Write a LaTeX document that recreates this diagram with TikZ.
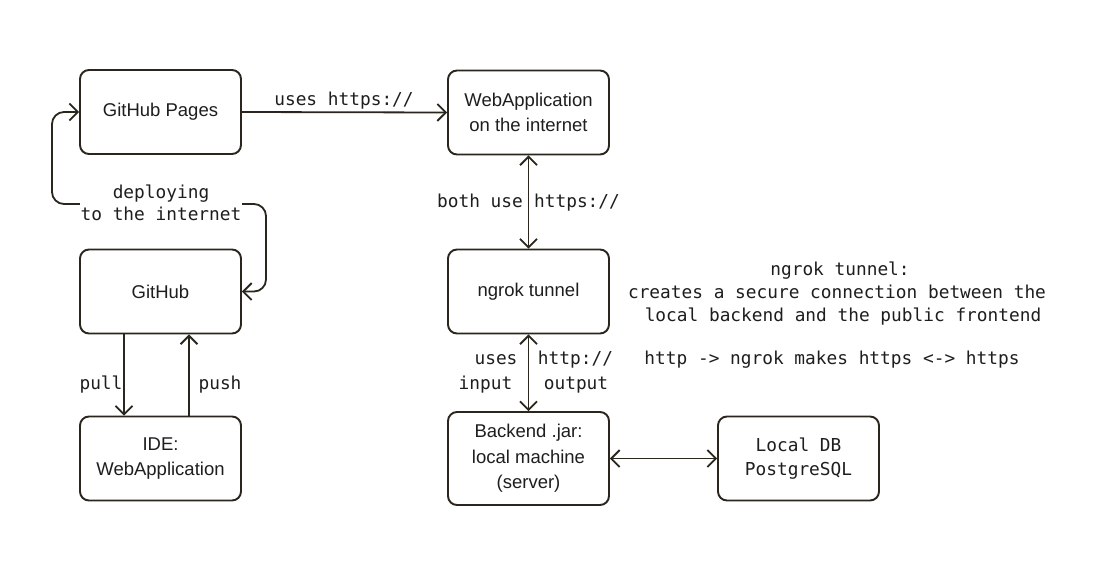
\documentclass[tikz,border=0pt]{standalone}
\usepackage{fontspec}
\setmainfont{Liberation Sans}
\newfontfamily\monofont{DejaVu Sans Mono}
\usetikzlibrary{arrows.meta}
\definecolor{ink}{HTML}{2A251D}
\definecolor{txt}{HTML}{1E1E1E}
\begin{document}
\begin{tikzpicture}[x=1pt,y=-1pt,
  box/.style={draw=ink, line width=1.9pt, rounded corners=9pt, minimum width=161pt, minimum height=84pt,
    font=\fontsize{18.5}{25.5}\selectfont, text=txt, align=center, inner sep=0pt},
  mbox/.style={box, font=\monofont\fontsize{17.8}{24}\selectfont},
  lbl/.style={font=\monofont\fontsize{17.8}{22}\selectfont, text=txt, inner sep=0pt, anchor=base},
  conn/.style={draw=ink, line width=1.8pt, line cap=round, line join=round},
  tipend/.style={conn, -{Straight Barb[length=8.5pt,width=17pt]}},
  tipboth/.style={conn, {Straight Barb[length=8.5pt,width=17pt]}-{Straight Barb[length=8.5pt,width=17pt]}}]
\useasboundingbox[fill=white] (0,0) rectangle (1105,563);

% boxes
\node[box] (pages) at (160.5,112) {GitHub Pages};
\node[box] (web) at (528.5,112.5) {WebApplication\\on the internet};
\node[box] (github) at (160.5,291.5) {GitHub};
\node[box] (ngrok) at (528.5,291.5) {ngrok tunnel};
\node[box] (ide) at (160.5,458.5) {IDE:\\WebApplication};
\node[box, minimum height=93pt] (backend) at (528.5,458.5) {Backend .jar:\\local machine\\(server)};
\node[mbox] (db) at (798.5,458.5) {Local DB\\PostgreSQL};

% connectors
\draw[tipend] (pages.east) -- (web.west);
\node[lbl] (l1) at (344,105) {uses https://};

\draw[tipboth] (web.south) -- (ngrok.north);
\node[lbl] (l2) at (480,207) {both use};
\node[lbl] (l3) at (577,207) {https://};

\draw[tipboth] (ngrok.south) -- (backend.north);
\node[lbl] (l4) at (496,364) {uses};
\node[lbl] (l5) at (485.5,389) {input};
\node[lbl] (l6) at (575.5,364) {http://};
\node[lbl] (l7) at (576,389) {output};

\draw[tipboth] (backend.east) -- (db.west);

\draw[tipend] ([xshift=-36.5pt]github.south) -- ([xshift=-36.5pt]ide.north);
\draw[tipend] ([xshift=28.5pt]ide.north) -- ([xshift=28.5pt]github.south);
\node[lbl] (l8) at (101,389) {pull};
\node[lbl] (l9) at (220,389) {push};

\coordinate (d1) at (52,112);
\coordinate (d2) at (52,204);
\coordinate (d3) at (266,204);
\coordinate (d4) at (266,291.5);
\draw[tipboth, rounded corners=12pt] (pages.west) -- (d1) -- (d2) -- (d3) -- (d4) -- (github.east);
\node[font=\monofont\fontsize{17.8}{22}\selectfont, text=txt, fill=white, align=center, inner sep=1pt] (dep) at (161,203) {deploying\\to the internet};

% note
\node[lbl] (n1) at (840,275) {ngrok tunnel:};
\node[lbl] (n2) at (837,298) {creates a secure connection between the};
\node[lbl] (n3) at (843,321) {local backend and the public frontend};
\node[lbl] (n4) at (832,364) {http -> ngrok makes https <-> https};
\end{tikzpicture}
\end{document}
